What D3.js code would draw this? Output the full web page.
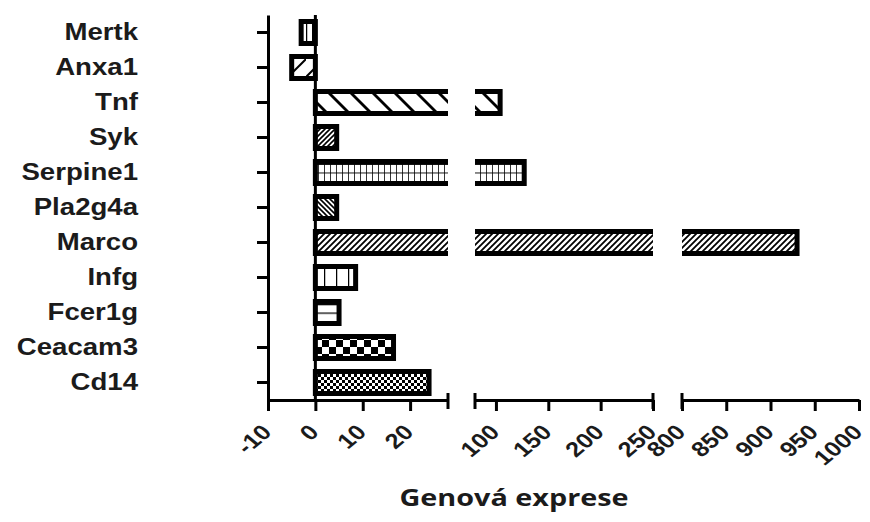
<!DOCTYPE html>
<html>
<head>
<meta charset="utf-8">
<script src="https://cdn.jsdelivr.net/npm/d3@7"></script>
<style>
  html, body { margin: 0; padding: 0; background: #fff; }
  svg { display: block; }
</style>
</head>
<body>
<svg id="chart" width="870" height="522"></svg>
<script>
// Gene expression values (fold change), one bar per gene
const categories = ["Mertk", "Anxa1", "Tnf", "Syk", "Serpine1", "Pla2g4a", "Marco", "Infg", "Fcer1g", "Ceacam3", "Cd14"];
const values = [-3, -5, 104, 4.5, 127, 4.5, 930, 8.5, 5, 16.5, 24];

// Broken x axis: three segments, each with its own domain and tick labels
const segmentDomains = [[-10, 28], [80, 250], [800, 1000]];
const segmentTicks = [[-10, 0, 10, 20], [100, 150, 200, 250], [800, 850, 900, 950, 1000]];
const axisTitle = "Genová exprese";

const svg = d3.select("#chart");
const axisY = 400, plotTop = 15;
const segmentRanges = [[268, 448], [475, 653], [682, 859]];
const stretch = 1.2;           // glyphs in this chart are drawn slightly wide
const ink = "#000";
const textInk = "#1b1b1b";

const y = d3.scaleBand().domain(categories).range([plotTop, axisY]);
const xs = segmentDomains.map((d, i) => d3.scaleLinear().domain(d).range(segmentRanges[i]));

const barH = 22, barStroke = 5;
const inner = barH - barStroke;   // height of the patterned area inside the outline

// ---- fill patterns, one per gene ----
const defs = svg.append("defs");
function pat(id, w, h, yOff, draw) {
  const p = defs.append("pattern").attr("id", id)
    .attr("patternUnits", "userSpaceOnUse")
    .attr("x", 0).attr("y", yOff).attr("width", w).attr("height", h);
  p.append("rect").attr("width", w).attr("height", h).attr("fill", "#fff");
  draw(p);
}
function line(p, x1, y1, x2, y2, sw) {
  p.append("line").attr("x1", x1).attr("y1", y1).attr("x2", x2).attr("y2", y2)
    .attr("stroke", ink).attr("stroke-width", sw).attr("stroke-linecap", "square");
}
function checker(p, c) {
  p.append("rect").attr("x", 0).attr("y", 0).attr("width", c).attr("height", c).attr("fill", ink);
  p.append("rect").attr("x", c).attr("y", c).attr("width", c).attr("height", c).attr("fill", ink);
}
const barTop = c => y(c) + y.bandwidth() / 2 - barH / 2 + barStroke / 2;
const half = inner / 2;
const patterns = {
  Mertk: p => line(p, 0, 0, 0, 8, 2.5),
  Anxa1: p => { line(p, 0, 18, 18, 0, 2); },
  Tnf: p => { line(p, 0, 0, 22, 22, 2.8); line(p, -22, 0, 0, 22, 2.8); line(p, 22, 0, 44, 22, 2.8); },
  Syk: p => { line(p, 0, 5, 5, 0, 1.6); line(p, -5, 5, 0, 0, 1.6); line(p, 5, 5, 10, 0, 1.6); },
  Serpine1: p => { line(p, 0, 0, 0, half, 1.6); line(p, 0, 0, 6, 0, 1.8); },
  Pla2g4a: p => { line(p, 0, 0, 5, 5, 1.6); line(p, -5, 0, 0, 5, 1.6); line(p, 5, 0, 10, 5, 1.6); },
  Marco: p => { line(p, 0, 6, 6, 0, 1.8); line(p, -6, 6, 0, 0, 1.8); line(p, 6, 6, 12, 0, 1.8); },
  Infg: p => line(p, 0, 0, 0, 20, 2.5),
  Fcer1g: p => line(p, 0, 0, 8, 0, 2.5),
  Ceacam3: p => checker(p, 7),
  Cd14: p => checker(p, 3)
};
const patternSize = {
  Mertk: [6, 8], Anxa1: [18, 18], Tnf: [22, 22], Syk: [5, 5], Serpine1: [6, half],
  Pla2g4a: [5, 5], Marco: [6, 6], Infg: [12, 20], Fcer1g: [8, half], Ceacam3: [14, 14], Cd14: [6, 6]
};
const patternShift = { Ceacam3: 1 };
categories.forEach(c => {
  const [w, h] = patternSize[c];
  pat("pat-" + c, w, h, barTop(c) + (patternShift[c] || 0), patterns[c]);
});

// ---- clip regions for each axis segment ----
segmentRanges.forEach((r, i) => {
  defs.append("clipPath").attr("id", "seg-" + i)
    .append("rect").attr("x", r[0]).attr("y", 0).attr("width", r[1] - r[0]).attr("height", axisY);
});

// ---- bars, drawn once per segment and clipped to it ----
const data = categories.map((c, i) => ({ c, v: values[i] }));
segmentDomains.forEach((dom, i) => {
  const s = xs[i], r = segmentRanges[i];
  const g = svg.append("g").attr("clip-path", `url(#seg-${i})`);
  const rows = data.filter(d => i === 0 || d.v > dom[0]);
  g.selectAll("rect").data(rows).join("rect")
    .attr("x", d => {
      if (i === 0) return d.v < 0 ? s(d.v) : s(0);
      return r[0] - 10;
    })
    .attr("width", d => {
      if (i === 0) {
        if (d.v < 0) return s(0) - s(d.v);
        return (d.v > dom[1] ? r[1] + 10 : s(d.v)) - s(0);
      }
      const end = d.v > dom[1] ? r[1] + 10 : s(d.v);
      return end - (r[0] - 10);
    })
    .attr("y", d => y(d.c) + y.bandwidth() / 2 - barH / 2)
    .attr("height", barH)
    .attr("fill", d => `url(#pat-${d.c})`)
    .attr("stroke", ink)
    .attr("stroke-width", barStroke);
});

// zero reference line
svg.append("line")
  .attr("x1", xs[0](0)).attr("x2", xs[0](0))
  .attr("y1", plotTop).attr("y2", axisY)
  .attr("stroke", ink).attr("stroke-width", 3);

// ---- y axis ----
const yAxis = svg.append("g").attr("transform", `translate(${segmentRanges[0][0]},0)`)
  .call(d3.axisLeft(y).tickSize(11).tickSizeOuter(0));
yAxis.select(".domain").attr("stroke", ink).attr("stroke-width", 3);
yAxis.selectAll(".tick line").attr("stroke", ink).attr("stroke-width", 3);
yAxis.selectAll(".tick text")
  .attr("x", -130 / stretch)
  .attr("transform", `scale(${stretch},1)`)
  .attr("fill", textInk)
  .style("font-family", "'Liberation Sans', Arial, sans-serif")
  .style("font-weight", "bold")
  .style("font-size", "23px");

// ---- broken x axis ----
segmentDomains.forEach((dom, i) => {
  const g = svg.append("g").attr("transform", `translate(0,${axisY})`)
    .call(d3.axisBottom(xs[i]).tickValues(segmentTicks[i]).tickFormat(d => String(d))
      .tickSize(11).tickSizeOuter(0));
  g.select(".domain").attr("stroke", ink).attr("stroke-width", 3);
  g.selectAll(".tick line").attr("stroke", ink).attr("stroke-width", 3);
  g.selectAll(".tick text")
    .attr("x", 0).attr("y", 0).attr("dy", "0.3em")
    .attr("text-anchor", "end")
    .attr("transform", `translate(-1,29) scale(${stretch},1) rotate(-45)`)
    .attr("fill", textInk)
    .style("font-family", "'Liberation Sans', Arial, sans-serif")
    .style("font-weight", "bold")
    .style("font-size", "21px");
});
// end caps at the axis breaks
const caps = [segmentRanges[0][1], segmentRanges[1][0], segmentRanges[1][1], segmentRanges[2][0]];
svg.selectAll(".cap").data(caps).join("line").attr("class", "cap")
  .attr("x1", d => d).attr("x2", d => d)
  .attr("y1", axisY - 7).attr("y2", axisY + 9)
  .attr("stroke", ink).attr("stroke-width", 3);

// axis title
svg.append("text")
  .attr("transform", `translate(514,506) scale(${stretch},1)`)
  .attr("text-anchor", "middle")
  .attr("fill", textInk)
  .style("font-family", "'Open Sans', sans-serif")
  .style("font-weight", "bold")
  .style("font-size", "24px")
  .text(axisTitle);
</script>
</body>
</html>
